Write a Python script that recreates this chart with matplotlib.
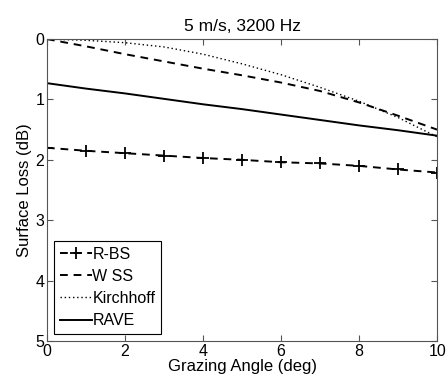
import matplotlib
matplotlib.use('Agg')
import matplotlib.pyplot as plt

plt.rcParams['font.family'] = ['Liberation Sans', 'DejaVu Sans']

angle = [0, 1, 2, 3, 4, 5, 6, 7, 8, 9, 10]
r_bs = [1.80, 1.85, 1.89, 1.93, 1.97, 2.00, 2.04, 2.06, 2.10, 2.16, 2.21]
w_ss = [0.0, 0.12, 0.25, 0.37, 0.49, 0.60, 0.72, 0.86, 1.05, 1.27, 1.50]
kirchhoff = [0.0, 0.02, 0.06, 0.13, 0.25, 0.41, 0.59, 0.80, 1.03, 1.30, 1.62]
rave = [0.73, 0.82, 0.90, 0.99, 1.08, 1.16, 1.25, 1.34, 1.43, 1.51, 1.60]

fig = plt.figure(figsize=(4.47, 3.87), dpi=100)
ax = fig.add_axes([0.105, 0.119, 0.873, 0.780])

ax.plot(angle, r_bs, color='black', linestyle=(0, (4, 3)), linewidth=1.4,
        marker='+', markersize=9, markeredgewidth=1.3, label='R-BS')
ax.plot(angle, w_ss, color='black', linestyle=(0, (4, 3)), linewidth=1.4, label='W SS')
ax.plot(angle, kirchhoff, color='black', linestyle=(0, (1, 2)), linewidth=1.0, label='Kirchhoff')
ax.plot(angle, rave, color='black', linestyle='-', linewidth=1.4, label='RAVE')

ax.set_xlim(0, 10)
ax.set_ylim(5, 0)
ax.set_xticks([0, 2, 4, 6, 8, 10])
ax.set_yticks([0, 1, 2, 3, 4, 5])
ax.tick_params(direction='in', top=True, right=True, length=4, labelsize=11.5,
               color='#555555', pad=2)
for s in ax.spines.values():
    s.set_color('#555555')

ax.set_title('5 m/s, 3200 Hz', fontsize=12.5)
ax.set_xlabel('Grazing Angle (deg)', fontsize=12, labelpad=0)
ax.set_ylabel('Surface Loss (dB)', fontsize=12, labelpad=2)

leg = ax.legend(loc='lower left', fontsize=11.5, handlelength=2.0, handletextpad=0.05,
                labelspacing=0.45, borderaxespad=0.45, fancybox=False, framealpha=1,
                edgecolor='black', borderpad=0.35)
leg.get_frame().set_linewidth(0.8)

fig.savefig('out.png', dpi=100)
